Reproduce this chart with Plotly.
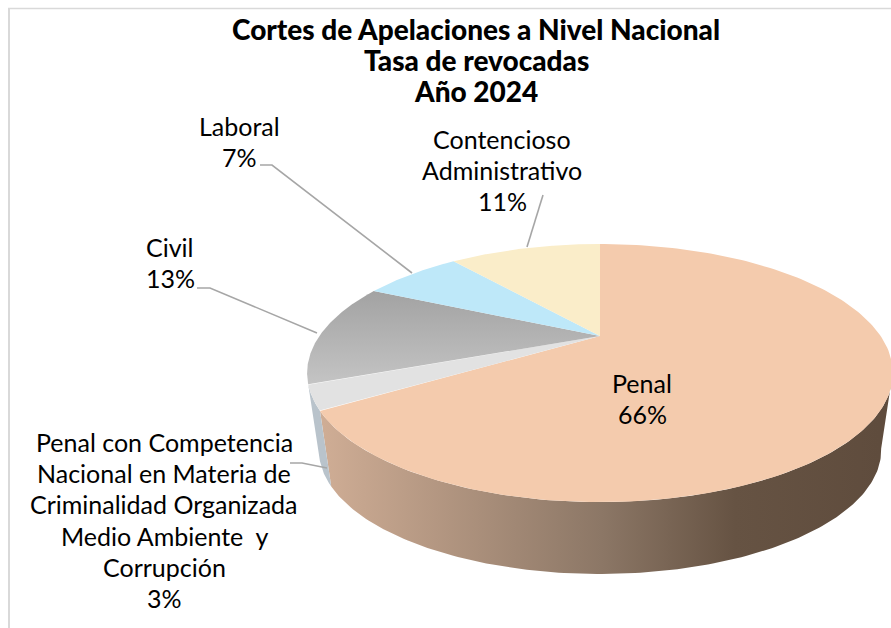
import numpy as np
import plotly.graph_objects as go

# ---- data ----
categories = ["Penal", "Penal con Competencia Nacional en Materia de Criminalidad Organizada Medio Ambiente  y Corrupción",
              "Civil", "Laboral", "Contencioso Administrativo"]
values = [66, 3, 13, 7, 11]
label_lines = [["Penal"],
               ["Penal con Competencia", "Nacional en Materia de", "Criminalidad Organizada", "Medio Ambiente  y", "Corrupción"],
               ["Civil"], ["Laboral"], ["Contencioso", "Administrativo"]]
title_lines = ["Cortes de Apelaciones a Nivel Nacional", "Tasa de revocadas", "Año 2024"]

# ---- styling / layout ----
W, H = 891, 628
FONT = "Lato"
top_colors = ["#F4CBAD", "#E2E2E2", "#A3A3A3", "#BEE8F9", "#FAEDC9"]
civil_scale = [[0, "#A0A0A0"], [1, "#C8C8C8"]]
label_x = [642, 164, 170, 239, 502]
label_y0 = [383, 442, 247, 126, 139]
LINE_STEP = 31.2
title_y = [29, 60, 91]
leaders = [None,
           [(290, 463), (302, 463), (327, 468)],
           [(197, 288), (210, 288), (317, 333)],
           [(260, 165), (272, 165), (412, 273)],
           [(543, 195), (527, 247)]]
# perspective model of the disc
CX, A, B, C, RX = 600.0, 336.0, 22.0, -0.287, 280.6
BASE_K, BASE_D = 0.96, 92.0


def top(theta):
    u, v = np.sin(theta), -np.cos(theta)
    d = 1 + C * v
    return CX + RX * u / d, (A + B * v) / d


def base(theta):
    x, y = top(theta)
    return CX + BASE_K * (x - CX), BASE_K * y + BASE_D


def arc(t0, t1, fn, n=160):
    return fn(np.linspace(t0, t1, n))


fig = go.Figure()
fracs = np.cumsum([0] + values) / sum(values) * 2 * np.pi

# side wall
VIS = np.radians(106)
wall_scale = [[0, "#5F4C3D"], [0.26, "#665343"], [0.5, "#8C7766"], [1, "#CFAD95"]]


def wall(t0, t1, **kw):
    tx, ty = arc(t0, t1, top)
    bx, by = arc(t0, t1, base)
    fig.add_trace(go.Scatter(x=np.r_[tx, bx[::-1]], y=np.r_[ty, by[::-1]], mode="lines",
                             line=dict(width=0), fill="toself", hoverinfo="skip", showlegend=False, **kw))


wall(VIS, fracs[1], fillcolor="#8E7867",
     fillgradient=dict(type="horizontal", colorscale=wall_scale, start=880, stop=322))
wall(fracs[1], fracs[2], fillcolor="#B9C3CB")

# top face
for i, col in enumerate(top_colors):
    x, y = arc(fracs[i], fracs[i + 1], top, 200)
    kw = dict(fillcolor=col)
    if i == 2:
        kw["fillgradient"] = dict(type="vertical", colorscale=civil_scale, start=285, stop=395)
    fig.add_trace(go.Scatter(x=np.r_[CX, x, CX], y=np.r_[A, y, A], mode="lines", line=dict(width=0),
                             fill="toself", hoverinfo="skip", showlegend=False, **kw))

# leader lines
for pts in leaders:
    if pts:
        fig.add_trace(go.Scatter(x=[p[0] for p in pts], y=[p[1] for p in pts], mode="lines",
                                 line=dict(color="#A6A6A6", width=1.6), hoverinfo="skip", showlegend=False))

# labels
for lines, val, lx, ly in zip(label_lines, values, label_x, label_y0):
    for k, t in enumerate(lines + [f"{val}%"]):
        fig.add_annotation(x=lx, y=ly + k * LINE_STEP, text=t, showarrow=False, align="center",
                           font=dict(family=FONT, size=25, color="#000000"))
for t, ty in zip(title_lines, title_y):
    fig.add_annotation(x=476, y=ty, text=t, showarrow=False, align="center",
                       font=dict(family=FONT, size=28, weight=900, color="#000000"))

fig.update_layout(width=W, height=H, margin=dict(l=0, r=0, t=0, b=0), paper_bgcolor="white", plot_bgcolor="white",
                  xaxis=dict(range=[0, W], visible=False, fixedrange=True),
                  yaxis=dict(range=[H, 0], visible=False, fixedrange=True),
                  shapes=[dict(type="line", x0=8, y0=8.5, x1=W, y1=8.5, line=dict(color="#D9D9D9", width=1.5), layer="below"),
                          dict(type="line", x0=9, y0=8, x1=9, y1=H, line=dict(color="#D9D9D9", width=2), layer="below")])
fig.write_html("out.html", config={"displayModeBar": False},
               post_script="document.body.style.margin='0';document.body.style.overflow='hidden';")
